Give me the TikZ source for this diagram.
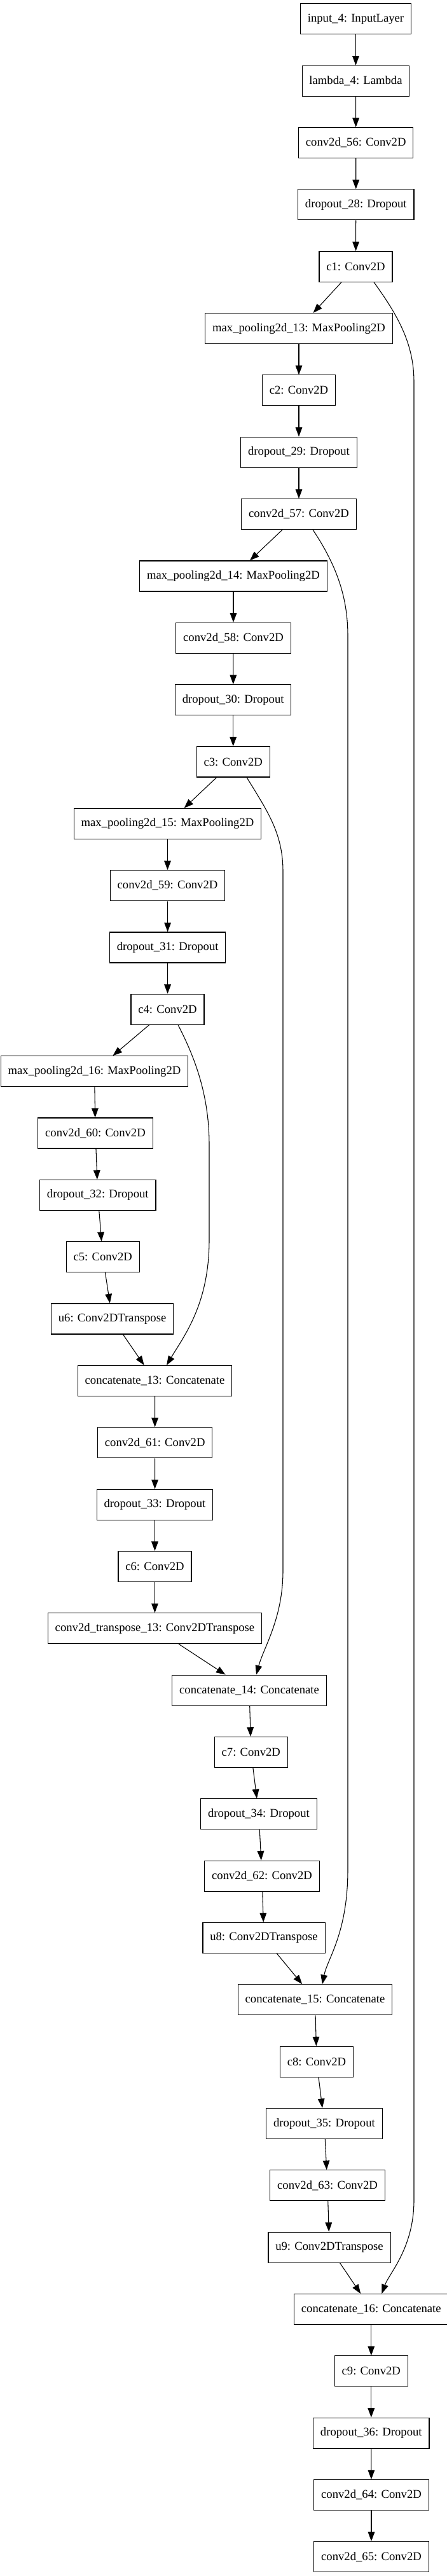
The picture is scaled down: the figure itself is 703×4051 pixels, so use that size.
\documentclass[tikz,border=0pt]{standalone}
\usepackage{fontspec}
\setmainfont{Liberation Serif}
\usetikzlibrary{arrows.meta}

\begin{document}
\begin{tikzpicture}[x=0.75pt, y=-0.75pt]
        % Style cho các lớp: khung đen, chữ Times
        \tikzstyle{layer} = [
            draw=black,
            line width=0.8pt,
            minimum height=36pt,
            inner xsep=8.5pt,
            inner ysep=0pt,
            font=\fontsize{14}{16}\selectfont
        ]
        % Style cho mũi tên
        \tikzstyle{link} = [line width=0.8pt, -{Triangle[length=11pt, width=8pt]}]

        \useasboundingbox (0,0) rectangle (703,4051);

        % Nhánh mã hoá
        \node[layer] (inp)   at (559.5, 29.9)   {input\_4: InputLayer};
        \node[layer] (lam)   at (559.5, 127.2)  {lambda\_4: Lambda};
        \node[layer] (cv56)  at (559.7, 224.6)  {conv2d\_56: Conv2D};
        \node[layer] (dp28)  at (559.8, 321.9)  {dropout\_28: Dropout};
        \node[layer] (c1)    at (559.5, 419.3)  {c1: Conv2D};
        \node[layer] (mp13)  at (470, 516.6)    {max\_pooling2d\_13: MaxPooling2D};
        \node[layer] (c2)    at (470, 613.9)    {c2: Conv2D};
        \node[layer] (dp29)  at (470, 711.3)    {dropout\_29: Dropout};
        \node[layer] (cv57)  at (470, 808.6)    {conv2d\_57: Conv2D};
        \node[layer] (mp14)  at (367, 906.0)    {max\_pooling2d\_14: MaxPooling2D};
        \node[layer] (cv58)  at (367, 1003.3)   {conv2d\_58: Conv2D};
        \node[layer] (dp30)  at (366.7, 1100.6) {dropout\_30: Dropout};
        \node[layer] (c3)    at (366.7, 1198.0) {c3: Conv2D};
        \node[layer] (mp15)  at (263.5, 1295.3) {max\_pooling2d\_15: MaxPooling2D};
        \node[layer] (cv59)  at (263.5, 1392.7) {conv2d\_59: Conv2D};
        \node[layer] (dp31)  at (263.7, 1490.0) {dropout\_31: Dropout};
        \node[layer] (c4)    at (263.5, 1587.3) {c4: Conv2D};
        \node[layer] (mp16)  at (148.5, 1684.7) {max\_pooling2d\_16: MaxPooling2D};
        \node[layer] (cv60)  at (150, 1782.0)   {conv2d\_60: Conv2D};
        \node[layer] (dp32)  at (153.8, 1879.4) {dropout\_32: Dropout};
        \node[layer] (c5)    at (161.7, 1976.7) {c5: Conv2D};

        % Nhánh giải mã
        \node[layer] (u6)    at (176.6, 2074.0) {u6: Conv2DTranspose};
        \node[layer] (cat13) at (243.5, 2171.4) {concatenate\_13: Concatenate};
        \node[layer] (cv61)  at (243.7, 2268.7) {conv2d\_61: Conv2D};
        \node[layer] (dp33)  at (243.5, 2366.1) {dropout\_33: Dropout};
        \node[layer] (c6)    at (243.5, 2463.4) {c6: Conv2D};
        \node[layer] (ct13)  at (243.5, 2560.7) {conv2d\_transpose\_13: Conv2DTranspose};
        \node[layer] (cat14) at (392, 2658.1)   {concatenate\_14: Concatenate};
        \node[layer] (c7)    at (394.8, 2755.4) {c7: Conv2D};
        \node[layer] (dp34)  at (407, 2852.8)   {dropout\_34: Dropout};
        \node[layer] (cv62)  at (412, 2950.1)   {conv2d\_62: Conv2D};
        \node[layer] (u8)    at (415, 3047.4)   {u8: Conv2DTranspose};
        \node[layer] (cat15) at (495.5, 3144.8) {concatenate\_15: Concatenate};
        \node[layer] (c8)    at (498, 3242.1)   {c8: Conv2D};
        \node[layer] (dp35)  at (510, 3339.5)   {dropout\_35: Dropout};
        \node[layer] (cv63)  at (515, 3436.8)   {conv2d\_63: Conv2D};
        \node[layer] (u9)    at (518, 3534.1)   {u9: Conv2DTranspose};
        \node[layer] (cat16) at (583.8, 3631.5) {concatenate\_16: Concatenate};
        \node[layer] (c9)    at (583.8, 3728.8) {c9: Conv2D};
        \node[layer] (dp36)  at (583.8, 3826.2) {dropout\_36: Dropout};
        \node[layer] (cv64)  at (584, 3923.5)   {conv2d\_64: Conv2D};
        \node[layer] (cv65)  at (584, 4020.8)   {conv2d\_65: Conv2D};

        % Mũi tên nối tiếp
        \draw[link] (inp) -- (lam);
        \draw[link] (lam) -- (cv56);
        \draw[link] (cv56) -- (dp28);
        \draw[link] (dp28) -- (c1);
        \draw[link] (c1) -- (mp13);
        \draw[link] (mp13) -- (c2);
        \draw[link] (c2) -- (dp29);
        \draw[link] (dp29) -- (cv57);
        \draw[link] (cv57) -- (mp14);
        \draw[link] (mp14) -- (cv58);
        \draw[link] (cv58) -- (dp30);
        \draw[link] (dp30) -- (c3);
        \draw[link] (c3) -- (mp15);
        \draw[link] (mp15) -- (cv59);
        \draw[link] (cv59) -- (dp31);
        \draw[link] (dp31) -- (c4);
        \draw[link] (c4) -- (mp16);
        \draw[link] (mp16) -- (cv60);
        \draw[link] (cv60) -- (dp32);
        \draw[link] (dp32) -- (c5);
        \draw[link] (c5) -- (u6);
        \draw[link] (u6) -- (cat13);
        \draw[link] (cat13) -- (cv61);
        \draw[link] (cv61) -- (dp33);
        \draw[link] (dp33) -- (c6);
        \draw[link] (c6) -- (ct13);
        \draw[link] (ct13) -- (cat14);
        \draw[link] (cat14) -- (c7);
        \draw[link] (c7) -- (dp34);
        \draw[link] (dp34) -- (cv62);
        \draw[link] (cv62) -- (u8);
        \draw[link] (u8) -- (cat15);
        \draw[link] (cat15) -- (c8);
        \draw[link] (c8) -- (dp35);
        \draw[link] (dp35) -- (cv63);
        \draw[link] (cv63) -- (u9);
        \draw[link] (u9) -- (cat16);
        \draw[link] (cat16) -- (c9);
        \draw[link] (c9) -- (dp36);
        \draw[link] (dp36) -- (cv64);
        \draw[link] (cv64) -- (cv65);

        % Các kết nối tắt (skip connection)
        \draw[link] ([xshift=21.4pt]c1.south) .. controls (625,495) and (651,540) .. (651,600)
            -- (651,3460) .. controls (651,3535) and (612,3575) .. ([xshift=12.5pt]cat16.north);
        \draw[link] ([xshift=16.5pt]cv57.south) .. controls (530,890) and (547,940) .. (547,1000)
            -- (547,2940) .. controls (547,3040) and (515,3080) .. ([xshift=8.5pt]cat15.north);
        \draw[link] ([xshift=16pt]c3.south) .. controls (420,1275) and (445,1310) .. (445,1370)
            -- (445,2470) .. controls (445,2545) and (415,2590) .. ([xshift=8.25pt]cat14.north);
        \draw[link] ([xshift=12.4pt]c4.south) .. controls (305,1660) and (329,1720) .. (329,1800)
            -- (329,1950) .. controls (329,2050) and (290,2100) .. ([xshift=13.9pt]cat13.north);

    \end{tikzpicture}
\end{document}
